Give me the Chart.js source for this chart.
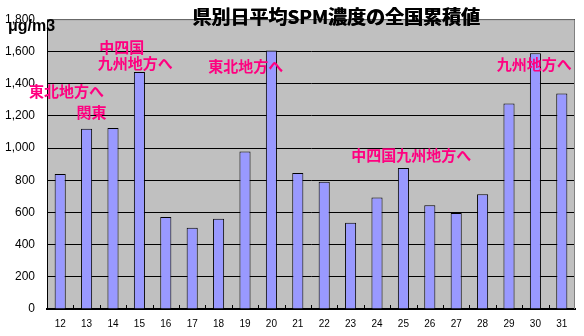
<!DOCTYPE html>
<html>
<head>
<meta charset="utf-8">
<script src="https://cdn.jsdelivr.net/npm/chart.js@4"></script>
<style>
  html, body { margin: 0; padding: 0; background: #fff; }
  #wrap { width: 584px; height: 336px; }
</style>
</head>
<body>
<div id="wrap"><canvas id="chart" width="584" height="336"></canvas></div>
<script>
// 日付 (categories)
const days = ['12','13','14','15','16','17','18','19','20','21','22','23','24','25','26','27','28','29','30','31'];
// 県別日平均SPM濃度の全国累積値 (μg/m3)
const totals = [839, 1119, 1125, 1472, 572, 505, 560, 979, 1606, 845, 791, 535, 693, 876, 645, 596, 712, 1277, 1588, 1338];
// y axis range / step
const yMax = 1800;
const yStep = 200;

const titleText = '県別日平均SPM濃度の全国累積値';
const unitText = 'μg/m3';

// notes anchored on (category index, value)
const notes = [
  { text: '東北地方へ', at: 0.24, value: 1352 },
  { text: '関東', at: 1.19, value: 1224 },
  { text: '中四国', at: 2.33, value: 1626 },
  { text: '九州地方へ', at: 2.84, value: 1529 },
  { text: '東北地方へ', at: 7.03, value: 1505 },
  { text: '中四国九州地方へ', at: 13.30, value: 957 },
  { text: '九州地方へ', at: 17.96, value: 1517 }
];

const CJK = '"Noto Sans CJK JP", "Noto Sans", sans-serif';

// gray plot background + border + small inward ticks
const plotBg = {
  id: 'plotBg',
  beforeDraw(chart) {
    const { ctx, chartArea: a } = chart;
    ctx.save();
    ctx.fillStyle = '#c0c0c0';
    ctx.fillRect(a.left, a.top, a.right - a.left, a.bottom - a.top);
    ctx.restore();
  },
  afterDraw(chart) {
    const { ctx, chartArea: a, scales: { x } } = chart;
    ctx.save();
    ctx.strokeStyle = '#808080';
    ctx.lineWidth = 1;
    ctx.beginPath();
    ctx.moveTo(a.left, a.top + 0.5);
    ctx.lineTo(a.right - 0.5, a.top + 0.5);
    ctx.lineTo(a.right - 0.5, a.bottom);
    ctx.stroke();

    // tick marks between days, pointing up
    ctx.strokeStyle = '#000';
    ctx.beginPath();
    for (let i = 1; i < days.length; i++) {
      const px = Math.round(x.getPixelForValue(i - 0.5)) + 0.5;
      ctx.moveTo(px, a.bottom);
      ctx.lineTo(px, a.bottom - 4);
    }
    ctx.stroke();
    ctx.restore();
  }
};

// title, unit and magenta notes
const texts = {
  id: 'texts',
  afterDraw(chart) {
    const { ctx, scales: { x, y } } = chart;
    ctx.save();
    ctx.textAlign = 'center';
    ctx.textBaseline = 'middle';
    ctx.fillStyle = '#ff0080';
    ctx.font = 'bold 15px ' + CJK;
    notes.forEach(n => {
      ctx.fillText(n.text, x.getPixelForValue(n.at), y.getPixelForValue(n.value));
    });

    ctx.fillStyle = '#000';
    ctx.font = 'bold 19px ' + CJK;
    ctx.fillText(titleText, 336, 17);
    ctx.fillText(titleText, 336.6, 17);

    ctx.textAlign = 'left';
    ctx.font = 'bold 16px "Liberation Sans", Arial, sans-serif';
    ctx.fillText(unitText, 8, 27);
    ctx.restore();
  }
};

new Chart(document.getElementById('chart'), {
  type: 'bar',
  data: {
    labels: days,
    datasets: [{
      data: totals,
      backgroundColor: '#9999ff',
      borderColor: '#000',
      borderWidth: 1,
      categoryPercentage: 1,
      barPercentage: 0.42
    }]
  },
  options: {
    responsive: false,
    animation: false,
    layout: { padding: { top: 13, right: 9, left: 0, bottom: 0 } },
    plugins: {
      legend: { display: false },
      title: { display: false },
      tooltip: { enabled: false }
    },
    scales: {
      x: {
        grid: { display: false, drawTicks: false },
        border: { color: '#000', width: 2 },
        ticks: {
          color: '#000',
          font: { family: '"Liberation Sans", Arial, sans-serif', size: 10 },
          padding: 9,
          maxRotation: 0,
          autoSkip: false
        },
        afterFit(s) { s.height = 27; }
      },
      y: {
        min: 0,
        max: yMax,
        grid: { color: '#000', lineWidth: 1, drawTicks: false },
        border: { color: '#000', width: 1 },
        ticks: {
          stepSize: yStep,
          color: '#000',
          font: { family: '"Liberation Sans", Arial, sans-serif', size: 12 },
          padding: 12,
          callback: v => v.toLocaleString('en-US')
        },
        afterFit(s) { s.width = 47; }
      }
    }
  },
  plugins: [plotBg, texts]
});
</script>
</body>
</html>
